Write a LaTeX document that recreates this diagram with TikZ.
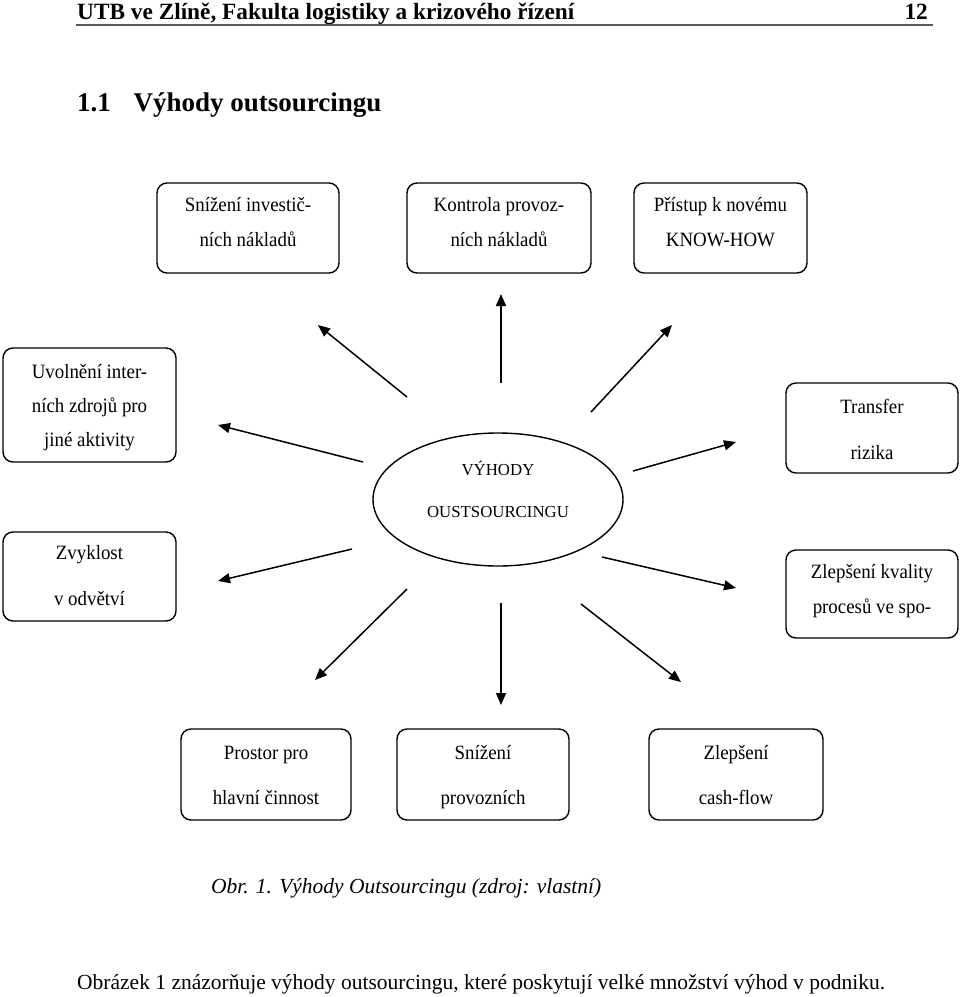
\documentclass[tikz,border=0pt]{standalone}
\usepackage{fontspec}
\setmainfont{Liberation Serif}
\newfontfamily\boxfam[FakeStretch=0.93]{Liberation Serif}
\usetikzlibrary{arrows.meta,shapes.geometric}
\begin{document}
\begin{tikzpicture}[x=1pt,y=-1pt,
  box/.style={draw,rounded corners=10pt,line width=1.4pt,inner sep=0pt},
  txt/.style={align=center,inner sep=0pt},
  tA/.style={txt,font=\boxfam\fontsize{20.3}{35}\selectfont},
  tB/.style={txt,font=\boxfam\fontsize{20.3}{46}\selectfont},
  tC/.style={txt,font=\boxfam\fontsize{20.3}{34}\selectfont},
  tD/.style={txt,font=\boxfam\fontsize{20.3}{45}\selectfont},
  arr/.style={line width=1.5pt,-{Triangle[length=12pt,width=10pt]}},
  plain/.style={inner sep=0pt,anchor=base west}]
\useasboundingbox (0,0) rectangle (960,997);

% header
\node[plain,font=\fontsize{23.3}{28}\selectfont\bfseries] (hdr) at (77,19.5) {UTB ve Zlíně, Fakulta logistiky a krizového řízení};
\node[inner sep=0pt,anchor=base east,font=\fontsize{23.3}{28}\selectfont\bfseries] (pg) at (928,19.5) {12};
\draw[line width=2.5pt,black!65] (76,25) -- (933,25);

% title
\node[plain,font=\fontsize{27}{32}\selectfont\bfseries] (tnum) at (77,111) {1.1};
\node[plain,font=\fontsize{27}{32}\selectfont\bfseries] (ttl) at (133.5,111) {Výhody outsourcingu};

% top boxes
\node[box,minimum width=182pt,minimum height=90pt] (b1) at (248,228) {};
\node[tA] (b1t) at (248,222.5) {Snížení investič-\\ních nákladů};
\node[box,minimum width=184pt,minimum height=90pt] (b2) at (499,228) {};
\node[tA] (b2t) at (499,222.5) {Kontrola provoz-\\ních nákladů};
\node[box,minimum width=173pt,minimum height=90pt] (b3) at (720.5,228) {};
\node[tA] (b3t) at (720.5,222.5) {Přístup k novému\\KNOW-HOW};

% left boxes
\node[box,minimum width=173pt,minimum height=114pt] (l1) at (89.5,405) {};
\node[tC] (l1t) at (89.5,408) {Uvolnění inter-\\ních zdrojů pro\\jiné aktivity};
\node[box,minimum width=173pt,minimum height=89pt] (l2) at (89.5,576.5) {};
\node[tB] (l2t) at (89.5,576) {Zvyklost\\v odvětví};

% right boxes
\node[box,minimum width=172pt,minimum height=90pt] (r1) at (872,428) {};
\node[tB] (r1t) at (872,429) {Transfer\\rizika};
\node[box,minimum width=172pt,minimum height=88pt] (r2) at (872,594) {};
\node[tA] (r2t) at (872,591.5) {Zlepšení kvality\\procesů ve spo-};

% bottom boxes
\node[box,minimum width=170pt,minimum height=91pt] (d1) at (266,774.5) {};
\node[tD] (d1t) at (266,775.5) {Prostor pro\\hlavní činnost};
\node[box,minimum width=172pt,minimum height=91pt] (d2) at (483,774.5) {};
\node[tD] (d2t) at (483,777.5) {Snížení\\provozních};
\node[box,minimum width=174pt,minimum height=91pt] (d3) at (736,774.5) {};
\node[tD] (d3t) at (736,775.5) {Zlepšení\\cash-flow};

% centre ellipse
\node[draw,ellipse,line width=1.4pt,minimum width=250pt,minimum height=133pt,inner sep=0pt] (c) at (498,499.5) {};
\node[txt,font=\fontsize{16.8}{42}\selectfont] (ct) at (498,489.5) {VÝHODY\\OUSTSOURCINGU};

% arrow end points
\coordinate (s1) at (407,397);  \coordinate (e1) at (318,325);
\coordinate (s2) at (501,383);  \coordinate (e2) at (501,294);
\coordinate (s3) at (591,412);  \coordinate (e3) at (672,325);
\coordinate (s4) at (363,462);  \coordinate (e4) at (218,425);
\coordinate (s5) at (352,549);  \coordinate (e5) at (218,581);
\coordinate (s6) at (633,471);  \coordinate (e6) at (736,442);
\coordinate (s7) at (602,557);  \coordinate (e7) at (736,588);
\coordinate (s8) at (407,589);  \coordinate (e8) at (315,680);
\coordinate (s9) at (501,603);  \coordinate (e9) at (501,705);
\coordinate (s10) at (581,604); \coordinate (e10) at (681,682);
\foreach \i in {1,...,10} {\draw[arr] (s\i) -- (e\i);}

% caption and body text
\node[plain,font=\fontsize{21.5}{26}\selectfont\itshape] (cap) at (211,893) {Obr. 1. Výhody Outsourcingu (zdroj: vlastní)};
\node[plain,font=\fontsize{21.5}{26}\selectfont] (body) at (77,989) {Obrázek 1 znázorňuje výhody outsourcingu, které poskytují velké množství výhod v podniku.};
\end{tikzpicture}
\end{document}
